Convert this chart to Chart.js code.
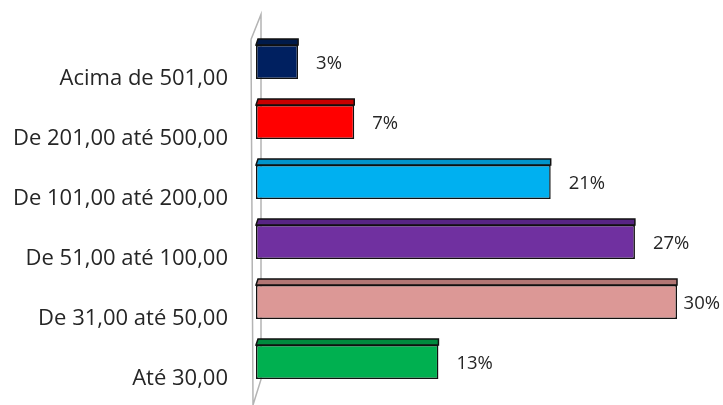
<!DOCTYPE html>
<html>
<head>
<meta charset="utf-8">
<script src="https://cdn.jsdelivr.net/npm/chart.js@4"></script>
<style>
  html, body { margin: 0; padding: 0; background: #fff; }
  #wrap { width: 723px; height: 405px; }
</style>
</head>
<body>
<div id="wrap"><canvas id="faixas"></canvas></div>
<script>
const categories = ['Acima de 501,00', 'De 201,00 até 500,00', 'De 101,00 até 200,00', 'De 51,00 até 100,00', 'De 31,00 até 50,00', 'Até 30,00'];
const percentages = [3, 7, 21, 27, 30, 13];
const frontColors = ['#002060', '#ff0000', '#00b0f0', '#7030a0', '#dc9896', '#00b050'];
const topColors = ['#001a4a', '#c80000', '#0094cc', '#582484', '#b27674', '#008a3e'];

const FONT = '"Open Sans", sans-serif';

// gray 3D wall behind the bars
const wallPlugin = {
  id: 'wall',
  beforeDatasetsDraw(chart) {
    const { ctx, chartArea } = chart;
    const x0 = chart.scales.x.getPixelForValue(0);
    ctx.save();
    ctx.strokeStyle = '#b4b4b4';
    ctx.lineWidth = 1.5;
    ctx.beginPath();
    ctx.moveTo(x0 - 5, chartArea.top + 7.5);
    ctx.lineTo(x0 + 5, chartArea.top - 17.5);
    ctx.lineTo(x0 + 5, chartArea.bottom - 12.5);
    ctx.lineTo(x0 - 3, chart.height);
    ctx.moveTo(x0 - 5, chartArea.top + 7.5);
    ctx.lineTo(x0 - 3, chart.height);
    ctx.stroke();
    ctx.restore();
  }
};

// top face of each bar plus the percentage labels
const barTopPlugin = {
  id: 'barTop',
  afterDatasetsDraw(chart) {
    const { ctx } = chart;
    const meta = chart.getDatasetMeta(0);
    ctx.save();
    meta.data.forEach((bar, i) => {
      const x0 = bar.base;
      const x1 = bar.x;
      const yt = bar.y - bar.height / 2;
      ctx.beginPath();
      ctx.moveTo(x0, yt);
      ctx.lineTo(x0 + 2, yt - 6);
      ctx.lineTo(x1, yt - 6);
      ctx.lineTo(x1, yt);
      ctx.closePath();
      ctx.fillStyle = topColors[i];
      ctx.fill();
      ctx.strokeStyle = '#111';
      ctx.lineWidth = 1.5;
      ctx.stroke();

      // keep the label inside the canvas when the bar is long
      const text = percentages[i] + '%';
      ctx.fillStyle = '#262626';
      ctx.font = '18.5px ' + FONT;
      ctx.textAlign = 'left';
      ctx.textBaseline = 'middle';
      const w = ctx.measureText(text).width;
      const tx = Math.min(x1 + 18, chart.width - w - 3);
      ctx.fillText(text, tx, bar.y + 2);
    });
    ctx.restore();
  }
};

new Chart(document.getElementById('faixas'), {
  type: 'bar',
  data: {
    labels: categories,
    datasets: [{
      data: percentages,
      backgroundColor: frontColors,
      borderColor: '#111',
      borderWidth: 1.5,
      borderSkipped: false,
      barPercentage: 0.57,
      categoryPercentage: 1
    }]
  },
  options: {
    indexAxis: 'y',
    responsive: true,
    maintainAspectRatio: false,
    animation: false,
    layout: { padding: { left: 0, right: 46, top: 32, bottom: 13 } },
    plugins: {
      legend: { display: false },
      tooltip: { enabled: false }
    },
    scales: {
      x: {
        display: false,
        min: 0,
        max: 30
      },
      y: {
        afterFit: (scale) => {
          scale.width = 256;
          scale.paddingTop = 0;
          scale.paddingBottom = 0;
        },
        border: { display: false },
        grid: { display: false, drawTicks: false },
        ticks: {
          color: '#262626',
          font: { family: FONT, size: 22 },
          padding: 28,
          labelOffset: 17
        }
      }
    }
  },
  plugins: [wallPlugin, barTopPlugin]
});
</script>
</body>
</html>
